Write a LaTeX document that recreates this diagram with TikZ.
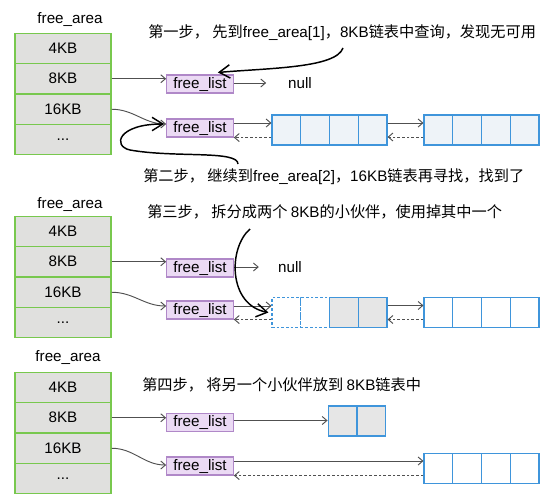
\documentclass[tikz,border=0pt]{standalone}
\usepackage{fontspec}
\setmainfont{Liberation Sans}
\newfontfamily\cjk{Noto Sans CJK SC}
\usetikzlibrary{arrows.meta,calc}
\definecolor{rowgreen}{HTML}{78C84E}
\definecolor{rowfill}{HTML}{E0E0DE}
\definecolor{flfill}{HTML}{EBDAF4}
\definecolor{fldraw}{HTML}{B088C8}
\definecolor{cellblue}{HTML}{3F95DB}
\definecolor{cellfill}{HTML}{EEF3F8}
\definecolor{cellgray}{HTML}{E6E6E6}
\definecolor{linegray}{HTML}{505050}
\begin{document}
\begin{tikzpicture}[x=0.75pt,y=-0.75pt, font=\fontsize{11.4}{13}\selectfont,
  rowbox/.style={draw=rowgreen, fill=rowfill, line width=1.1pt, minimum width=72pt, minimum height=22.5pt, inner sep=0pt},
  flbox/.style={draw=fldraw, fill=flfill, line width=0.8pt, minimum width=50pt, minimum height=13.5pt, inner sep=0pt},
  cellbox/.style={draw=cellblue, line width=0.9pt, minimum width=21.5pt, minimum height=22.5pt, inner sep=0pt},
  arr/.style={draw=linegray, line width=0.7pt, -{Straight Barb[length=3.5pt,width=6pt]}},
  darr/.style={arr, dash pattern=on 2pt off 1.5pt},
  hand/.style={draw=black, line width=1.1pt, -{Straight Barb[length=8pt,width=10pt]}},
  steptext/.style={anchor=west, inner sep=0pt}]
\fill[white] (0,0) rectangle (559,500);
\useasboundingbox (0,0) rectangle (559,500);

% free_area tables
\node (fa1) at (70,20) {free\_area};
\node (fa2) at (70,205) {free\_area};
\node (fa3) at (68,358) {free\_area};
\foreach \s/\t in {1/33, 2/216, 3/372} {
  \node[rowbox] (r\s-4) at (63, \t+15.25) {4KB};
  \node[rowbox] (r\s-8) at (63, \t+45.75) {8KB};
  \node[rowbox] (r\s-16) at (63, \t+76.25) {16KB};
  \node[rowbox] (r\s-d) at (63, \t+106.75) {...};
}

% free_list boxes
\node[flbox] (fl1a) at (200,84) {free\_list};
\node[flbox] (fl1b) at (200,128) {free\_list};
\node[flbox] (fl2a) at (200,268) {free\_list};
\node[flbox] (fl2b) at (200,310) {free\_list};
\node[flbox] (fl3a) at (200,422.5) {free\_list};
\node[flbox] (fl3b) at (200,466) {free\_list};

% null labels
\node (n1) at (300,83) {null};
\node (n2) at (290,267) {null};

% memory cells
\foreach \i in {0,...,3} {
  \node[cellbox, fill=cellfill] (c1a\i) at (286.4+28.75*\i, 130) {};
  \node[cellbox, fill=cellfill] (c1b\i) at (438.4+28.75*\i, 130) {};
  \node[cellbox, fill=white] (c2b\i) at (438.4+28.75*\i, 312.5) {};
  \node[cellbox, fill=white] (c3b\i) at (438.4+28.75*\i, 468.5) {};
}
\foreach \i in {0,1} {
  \node[cellbox, fill=white, dash pattern=on 2pt off 1.5pt] (c2a\i) at (286.4+28.75*\i, 312.5) {};
  \node[cellbox, fill=cellgray] (c3s\i) at (342.5+29*\i, 421) {};
}
\foreach \i in {2,3} {
  \node[cellbox, fill=cellgray] (c2a\i) at (286.4+28.75*\i, 312.5) {};
}

% step texts
\node[steptext] (st1) at (148,33) {{\cjk 第一步，\ 先到}free\_area[1]{\cjk ，}8KB{\cjk 链表中查询，发现无可用}};
\node[steptext] (st2) at (143,177) {{\cjk 第二步，\ 继续到}free\_area[2]{\cjk ，}16KB{\cjk 链表再寻找，找到了}};
\node[steptext] (st3) at (147,212) {{\cjk 第三步，\ 拆分成两个\ }8KB{\cjk 的小伙伴，使用掉其中一个}};
\node[steptext] (st4) at (142,385) {{\cjk 第四步，\ 将另一个小伙伴放到\ }8KB{\cjk 链表中}};

% ---- section 1 connectors
\draw[arr] (r1-8.east) -- (r1-8.east -| fl1a.west);
\draw[arr, shorten >=13pt] (fl1a.east |- n1) -- (n1.west);
\draw[arr] (r1-16.east) to[out=0,in=180] ($(fl1b.west)+(0,-4)$);
\coordinate (p1) at ($(fl1b.east)+(0,-5)$);
\draw[arr] (p1) -- (p1 -| c1a0.west);
\draw[darr] (fl1b.south east -| c1a0.west) -- (fl1b.south east);
\coordinate (q1) at ($(c1a3.east)+(0,-7)$);
\coordinate (q2) at ($(c1a3.east)+(0,7)$);
\draw[arr] (q1) -- (q1 -| c1b0.west);
\draw[darr] (q2 -| c1b0.west) -- (q2);

% ---- section 2 connectors
\draw[arr] (r2-8.east) -- (r2-8.east -| fl2a.west);
\draw[arr, shorten >=11pt] (fl2a.east |- n2) -- (n2.west);
\draw[arr] (r2-16.east) to[out=0,in=180] ($(fl2b.west)+(0,-4)$);
\coordinate (p2) at ($(fl2b.east)+(0,-4)$);
\draw[arr] (p2) -- (p2 -| c2a0.west);
\draw[darr] (fl2b.south east -| c2a0.west) -- (fl2b.south east);
\coordinate (q3) at ($(c2a3.east)+(0,-7)$);
\coordinate (q4) at ($(c2a3.east)+(0,7)$);
\draw[arr] (q3) -- (q3 -| c2b0.west);
\draw[darr] (q4 -| c2b0.west) -- (q4);

% ---- section 3 connectors
\draw[arr] (r3-8.east) -- (r3-8.east -| fl3a.west);
\coordinate (p3) at ($(fl3a.east)+(0,-2)$);
\draw[arr] (p3) -- (p3 -| c3s0.west);
\draw[arr] (r3-16.east) to[out=0,in=180] ($(fl3b.west)+(0,-1)$);
\coordinate (p4) at ($(fl3b.east)+(0,-5)$);
\draw[arr] (p4) -- (p4 -| c3b0.west);
\draw[darr] (fl3b.south east -| c3b0.west) -- (fl3b.south east);

% ---- hand-drawn arrows
\coordinate (h1) at (343,48);
\draw[hand] (h1) .. controls (336,68) and (270,68) .. ($(fl1a.north east)+(-16,-2)$);
\coordinate (h2) at (238,164);
\draw[hand] (h2) .. controls (238,150) and (175,158) .. (130,150) .. controls (112,146) and (118,124) .. ($(fl1b.west)+(-2,-4)$);
\coordinate (h3) at (250,229);
\draw[hand] (h3) .. controls (228,248) and (228,305) .. ($(c2a0.west)+(-3,0)$);
\end{tikzpicture}
\end{document}
